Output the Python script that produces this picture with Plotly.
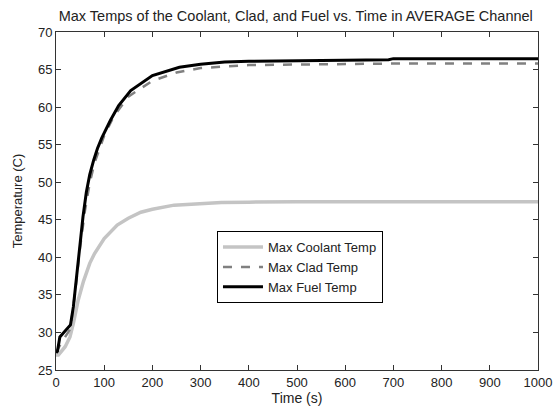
import plotly.graph_objects as go

t_cool = [0, 5, 19, 29, 36, 46, 57, 70, 80, 91, 100, 127, 150, 176, 200, 245, 300, 343, 400, 500, 1000]
cool = [27.0, 27.0, 28.1, 29.4, 31.2, 34.3, 36.8, 39.2, 40.5, 41.6, 42.5, 44.3, 45.2, 46.0, 46.4, 46.95, 47.2, 47.3, 47.35, 47.4, 47.4]

t_clad = [0, 10, 30, 40, 50, 60, 70, 80, 100, 120, 150, 200, 250, 300, 400, 500, 700, 1000]
clad = [27.3, 28.5, 30.5, 35.5, 41.3, 46.2, 49.9, 52.6, 56.2, 58.8, 61.4, 63.5, 64.6, 65.2, 65.6, 65.7, 65.8, 65.8]

t_fuel = [0, 3, 8, 15, 25, 30, 36, 43, 50, 56, 63, 70, 78, 86, 95, 113, 130, 155, 200, 256, 300, 350, 400, 500, 690, 700, 1000]
fuel = [27.3, 27.5, 29.4, 29.9, 30.6, 31.0, 33.4, 37.9, 42.3, 45.4, 48.7, 51.0, 52.9, 54.5, 55.9, 58.25, 60.2, 62.2, 64.2, 65.3, 65.7, 66.0, 66.1, 66.2, 66.3, 66.45, 66.45]

x_ticks = list(range(0, 1001, 100))
y_ticks = list(range(25, 71, 5))

FONT = "Liberation Sans, Arial"
TXT = "#222222"

fig = go.Figure()
fig.add_trace(go.Scatter(x=t_cool, y=cool, mode="lines", name="Max Coolant Temp",
                         line=dict(color="#c4c4c4", width=3.5)))
fig.add_trace(go.Scatter(x=t_clad, y=clad, mode="lines", name="Max Clad Temp",
                         line=dict(color="#808080", width=2.5, dash="dash")))
fig.add_trace(go.Scatter(x=t_fuel, y=fuel, mode="lines", name="Max Fuel Temp",
                         line=dict(color="#000000", width=3)))

axis_common = dict(showgrid=False, zeroline=False, showline=True, linecolor="#333333",
                   linewidth=1, mirror="ticks", ticks="inside", ticklen=5, tickcolor="#333333",
                   automargin=False,
                   tickfont=dict(family=FONT, size=13, color=TXT))

fig.update_layout(
    width=557, height=407,
    margin=dict(l=56, r=19, t=32, b=37, autoexpand=False),
    paper_bgcolor="white", plot_bgcolor="white",
    title=dict(text="Max Temps of the Coolant, Clad, and Fuel vs. Time in AVERAGE Channel",
               x=0.531, xanchor="center", y=0.961, yanchor="middle", automargin=False,
               font=dict(family=FONT, size=14.5, color=TXT)),
    xaxis=dict(range=[0, 1000], tickvals=x_ticks,
               title=dict(text="Time (s)", standoff=2,
                          font=dict(family=FONT, size=14, color=TXT)),
               **axis_common),
    yaxis=dict(range=[25, 70], tickvals=y_ticks,
               title=dict(text="Temperature (C)", standoff=12,
                          font=dict(family=FONT, size=13, color=TXT)),
               **axis_common),
    legend=dict(x=0.334, y=0.411, xanchor="left", yanchor="top",
                bordercolor="#000000", borderwidth=1, bgcolor="white",
                font=dict(family=FONT, size=13, color=TXT),
                tracegroupgap=0, itemwidth=40),
    showlegend=True,
)

fig.write_html("out.html", config={"displayModeBar": False},
               post_script="document.body.style.margin='0';document.body.style.overflow='hidden';")
